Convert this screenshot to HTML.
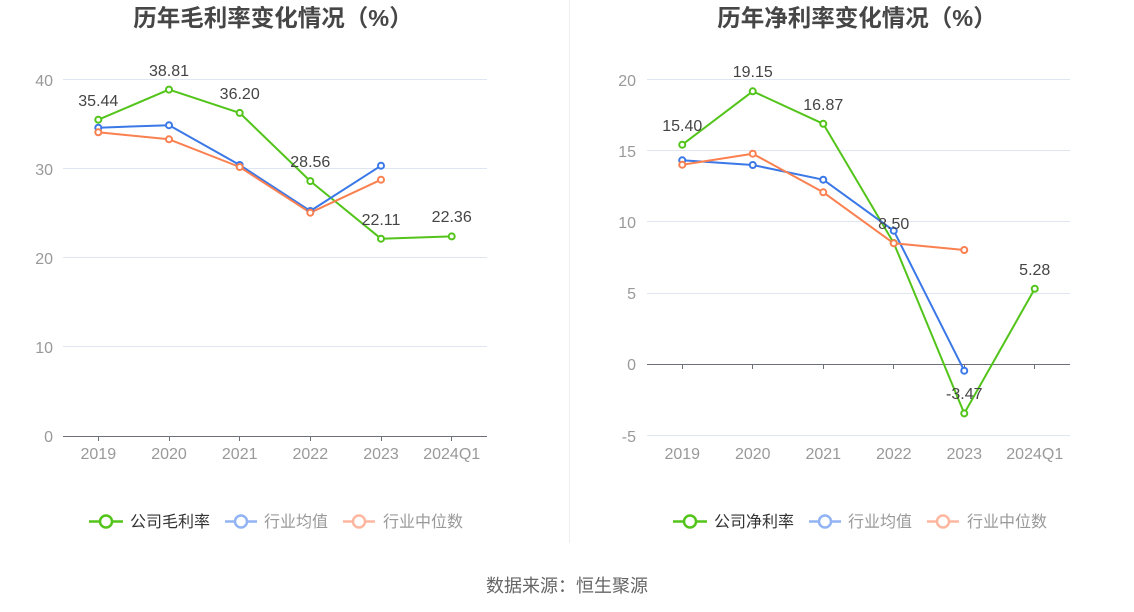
<!DOCTYPE html>
<html>
<head>
<meta charset="utf-8">
<style>
html,body{margin:0;padding:0;background:#fff;}
svg{display:block;}
text{font-family:"Liberation Sans","Noto Sans CJK SC",sans-serif;}
</style>
</head>
<body>
<svg width="1134" height="612" viewBox="0 0 1134 612" xmlns="http://www.w3.org/2000/svg">
<rect width="1134" height="612" fill="#fff"/>

<!-- divider -->
<line x1="569.5" y1="0" x2="569.5" y2="543" stroke="#eeeeee" stroke-width="1"/>

<!-- ================= LEFT CHART ================= -->
<text x="273" y="26" font-size="23.5" font-weight="bold" fill="#464646" text-anchor="middle">历年毛利率变化情况（%）</text>

<!-- gridlines -->
<g stroke="#e0e6f1" stroke-width="1">
<line x1="63" y1="79.5" x2="487" y2="79.5"/>
<line x1="63" y1="168.5" x2="487" y2="168.5"/>
<line x1="63" y1="257.5" x2="487" y2="257.5"/>
<line x1="63" y1="346.5" x2="487" y2="346.5"/>
</g>
<!-- axis -->
<line x1="63" y1="436.5" x2="487" y2="436.5" stroke="#6e7079" stroke-width="1"/>
<g stroke="#6e7079" stroke-width="1">
<line x1="98.5" y1="436" x2="98.5" y2="441"/>
<line x1="169.5" y1="436" x2="169.5" y2="441"/>
<line x1="239.5" y1="436" x2="239.5" y2="441"/>
<line x1="310.5" y1="436" x2="310.5" y2="441"/>
<line x1="381.5" y1="436" x2="381.5" y2="441"/>
<line x1="451.5" y1="436" x2="451.5" y2="441"/>
</g>
<!-- y labels -->
<g font-size="16" fill="#999" text-anchor="end">
<text x="53" y="86">40</text>
<text x="53" y="175">30</text>
<text x="53" y="264">20</text>
<text x="53" y="353">10</text>
<text x="53" y="442">0</text>
</g>
<!-- x labels -->
<g font-size="16" fill="#999" text-anchor="middle">
<text x="98.3" y="459">2019</text>
<text x="169" y="459">2020</text>
<text x="239.7" y="459">2021</text>
<text x="310.3" y="459">2022</text>
<text x="381" y="459">2023</text>
<text x="451.7" y="459">2024Q1</text>
</g>

<!-- series -->
<polyline fill="none" stroke="#52c41a" stroke-width="2" stroke-linejoin="round"
 points="98.3,119.7 169,89.6 239.7,112.9 310.3,181.1 381,238.7 451.7,236.4"/>
<polyline fill="none" stroke="#3b78e7" stroke-width="2" stroke-linejoin="round"
 points="98.3,127.7 169,125.2 239.7,165 310.3,211 381,165.7"/>
<polyline fill="none" stroke="#fa8050" stroke-width="2" stroke-linejoin="round"
 points="98.3,132.3 169,139.3 239.7,167 310.3,212.7 381,179.7"/>
<g fill="#fff" stroke-width="2">
<g stroke="#52c41a">
<circle cx="98.3" cy="119.7" r="3"/><circle cx="169" cy="89.6" r="3"/><circle cx="239.7" cy="112.9" r="3"/>
<circle cx="310.3" cy="181.1" r="3"/><circle cx="381" cy="238.7" r="3"/><circle cx="451.7" cy="236.4" r="3"/>
</g>
<g stroke="#3b78e7">
<circle cx="98.3" cy="127.7" r="3"/><circle cx="169" cy="125.2" r="3"/><circle cx="239.7" cy="165" r="3"/>
<circle cx="310.3" cy="211" r="3"/><circle cx="381" cy="165.7" r="3"/>
</g>
<g stroke="#fa8050">
<circle cx="98.3" cy="132.3" r="3"/><circle cx="169" cy="139.3" r="3"/><circle cx="239.7" cy="167" r="3"/>
<circle cx="310.3" cy="212.7" r="3"/><circle cx="381" cy="179.7" r="3"/>
</g>
</g>
<!-- data labels -->
<g font-size="16" fill="#444" text-anchor="middle">
<text x="98.3" y="106">35.44</text>
<text x="169" y="76">38.81</text>
<text x="239.7" y="99">36.20</text>
<text x="310.3" y="167">28.56</text>
<text x="381" y="225">22.11</text>
<text x="451.7" y="222">22.36</text>
</g>

<!-- legend left -->
<g>
<line x1="89" y1="521.5" x2="123" y2="521.5" stroke="#52c41a" stroke-width="2.5"/>
<circle cx="106" cy="521.5" r="6" fill="#fff" stroke="#52c41a" stroke-width="2.5"/>
<text x="130" y="527" font-size="16" fill="#333">公司毛利率</text>
<line x1="225" y1="521.5" x2="257" y2="521.5" stroke="#92b3f4" stroke-width="2.5"/>
<circle cx="241" cy="521.5" r="6" fill="#fff" stroke="#92b3f4" stroke-width="2.5"/>
<text x="264" y="527" font-size="16" fill="#999">行业均值</text>
<line x1="343" y1="521.5" x2="375" y2="521.5" stroke="#fdb7a0" stroke-width="2.5"/>
<circle cx="359" cy="521.5" r="6" fill="#fff" stroke="#fdb7a0" stroke-width="2.5"/>
<text x="383" y="527" font-size="16" fill="#999">行业中位数</text>
</g>

<!-- ================= RIGHT CHART ================= -->
<text x="857" y="26" font-size="23.5" font-weight="bold" fill="#464646" text-anchor="middle">历年净利率变化情况（%）</text>

<g stroke="#e0e6f1" stroke-width="1">
<line x1="647" y1="79.5" x2="1070" y2="79.5"/>
<line x1="647" y1="150.5" x2="1070" y2="150.5"/>
<line x1="647" y1="221.5" x2="1070" y2="221.5"/>
<line x1="647" y1="293.5" x2="1070" y2="293.5"/>
<line x1="647" y1="435.5" x2="1070" y2="435.5"/>
</g>
<line x1="647" y1="364.5" x2="1070" y2="364.5" stroke="#6e7079" stroke-width="1"/>
<g stroke="#6e7079" stroke-width="1">
<line x1="682.5" y1="364" x2="682.5" y2="369"/>
<line x1="752.5" y1="364" x2="752.5" y2="369"/>
<line x1="823.5" y1="364" x2="823.5" y2="369"/>
<line x1="893.5" y1="364" x2="893.5" y2="369"/>
<line x1="964.5" y1="364" x2="964.5" y2="369"/>
<line x1="1034.5" y1="364" x2="1034.5" y2="369"/>
</g>
<g font-size="16" fill="#999" text-anchor="end">
<text x="636" y="86">20</text>
<text x="636" y="157">15</text>
<text x="636" y="228">10</text>
<text x="636" y="299">5</text>
<text x="636" y="370">0</text>
<text x="636" y="442">-5</text>
</g>
<g font-size="16" fill="#999" text-anchor="middle">
<text x="682.25" y="459">2019</text>
<text x="752.75" y="459">2020</text>
<text x="823.25" y="459">2021</text>
<text x="893.75" y="459">2022</text>
<text x="964.25" y="459">2023</text>
<text x="1034.75" y="459">2024Q1</text>
</g>

<polyline fill="none" stroke="#52c41a" stroke-width="2" stroke-linejoin="round"
 points="682.25,144.7 752.75,91.3 823.25,123.8 893.75,243 964.25,413.4 1034.75,288.8"/>
<polyline fill="none" stroke="#3b78e7" stroke-width="2" stroke-linejoin="round"
 points="682.25,160.3 752.75,165 823.25,179.7 893.75,230.7 964.25,370.7"/>
<polyline fill="none" stroke="#fa8050" stroke-width="2" stroke-linejoin="round"
 points="682.25,164.7 752.75,153.7 823.25,192.3 893.75,243.3 964.25,250"/>
<g fill="#fff" stroke-width="2">
<g stroke="#52c41a">
<circle cx="682.25" cy="144.7" r="3"/><circle cx="752.75" cy="91.3" r="3"/><circle cx="823.25" cy="123.8" r="3"/>
<circle cx="893.75" cy="243" r="3"/><circle cx="964.25" cy="413.4" r="3"/><circle cx="1034.75" cy="288.8" r="3"/>
</g>
<g stroke="#3b78e7">
<circle cx="682.25" cy="160.3" r="3"/><circle cx="752.75" cy="165" r="3"/><circle cx="823.25" cy="179.7" r="3"/>
<circle cx="893.75" cy="230.7" r="3"/><circle cx="964.25" cy="370.7" r="3"/>
</g>
<g stroke="#fa8050">
<circle cx="682.25" cy="164.7" r="3"/><circle cx="752.75" cy="153.7" r="3"/><circle cx="823.25" cy="192.3" r="3"/>
<circle cx="893.75" cy="243.3" r="3"/><circle cx="964.25" cy="250" r="3"/>
</g>
</g>
<g font-size="16" fill="#444" text-anchor="middle">
<text x="682.25" y="131">15.40</text>
<text x="752.75" y="77">19.15</text>
<text x="823.25" y="110">16.87</text>
<text x="893.75" y="229">8.50</text>
<text x="964.25" y="399">-3.47</text>
<text x="1034.75" y="275">5.28</text>
</g>

<!-- legend right -->
<g>
<line x1="673" y1="521.5" x2="707" y2="521.5" stroke="#52c41a" stroke-width="2.5"/>
<circle cx="690" cy="521.5" r="6" fill="#fff" stroke="#52c41a" stroke-width="2.5"/>
<text x="714" y="527" font-size="16" fill="#333">公司净利率</text>
<line x1="809" y1="521.5" x2="841" y2="521.5" stroke="#92b3f4" stroke-width="2.5"/>
<circle cx="825" cy="521.5" r="6" fill="#fff" stroke="#92b3f4" stroke-width="2.5"/>
<text x="848" y="527" font-size="16" fill="#999">行业均值</text>
<line x1="927" y1="521.5" x2="959" y2="521.5" stroke="#fdb7a0" stroke-width="2.5"/>
<circle cx="943" cy="521.5" r="6" fill="#fff" stroke="#fdb7a0" stroke-width="2.5"/>
<text x="967" y="527" font-size="16" fill="#999">行业中位数</text>
</g>

<!-- source -->
<text x="567" y="592" font-size="18" fill="#666" text-anchor="middle">数据来源：恒生聚源</text>
</svg>
</body>
</html>
